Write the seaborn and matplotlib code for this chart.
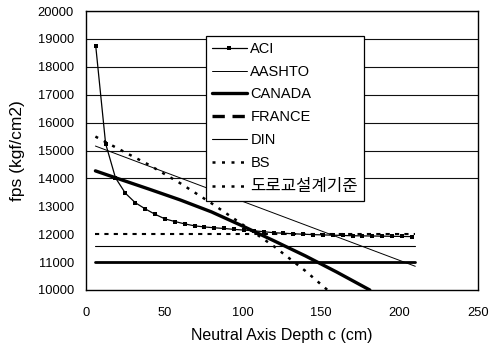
import matplotlib
matplotlib.use("Agg")
import matplotlib.pyplot as plt
import seaborn as sns
import pandas as pd
from matplotlib.lines import Line2D
from matplotlib import font_manager as fm

sns.set_theme(style="white")
names = {f.name for f in fm.fontManager.ttflist}
NARROW = "Liberation Sans Narrow" if "Liberation Sans Narrow" in names else "Liberation Sans"
plt.rcParams["font.family"] = ["Liberation Sans", "Noto Sans CJK KR", "DejaVu Sans"]

# ---------------- data ----------------
aci_c = [6.2, 12.5, 18.8, 25.1, 31.4, 37.7, 44.0, 50.3, 56.6, 62.9, 69.2, 75.5,
         81.8, 88.1, 94.4, 100.7, 107.0, 113.3, 119.6, 125.9, 132.2, 138.5,
         144.8, 151.1, 157.4, 163.7, 170.0, 176.3, 182.6, 188.9, 195.2, 201.5, 207.8]
aci_fps = [18750, 15250, 14020, 13470, 13130, 12910, 12715, 12550, 12455, 12370,
           12300, 12260, 12230, 12205, 12172, 12147, 12122, 12090, 12054, 12035,
           12015, 12000, 11985, 11975, 11965, 11955, 11945, 11940, 11935, 11930,
           11925, 11920, 11915]

aashto_c = [6, 210]
aashto_fps = [15160, 10850]

canada_c = [6, 20, 40, 60, 80, 100, 120, 140, 160, 181]
canada_fps = [14270, 14000, 13620, 13230, 12800, 12290, 11760, 11220, 10640, 10000]

france_c = [6, 210]
france_fps = [11000, 11000]

din_c = [6, 210]
din_fps = [11570, 11570]

bs_c = [6, 20, 40, 60, 80, 100, 120, 140, 154]
bs_fps = [15500, 15080, 14490, 13830, 13110, 12340, 11560, 10680, 10000]

road_c = [6, 210]
road_fps = [12020, 12020]

labels = ["ACI", "AASHTO", "CANADA", "FRANCE", "DIN", "BS", "도로교설계기준"]
x_ticks = [0, 50, 100, 150, 200, 250]
y_ticks = [10000, 11000, 12000, 13000, 14000, 15000, 16000, 17000, 18000, 19000, 20000]

# ---------------- figure ----------------
fig = plt.figure(figsize=(4.97, 3.5), dpi=100)
ax = fig.add_axes([86 / 497, 1 - 290 / 350, 392 / 497, 279 / 350])

K = "black"
sns.lineplot(x=aci_c, y=aci_fps, ax=ax, color=K, lw=0.9, marker="s", markersize=3.4,
             markeredgewidth=0, legend=False, sort=False)
sns.lineplot(x=aashto_c, y=aashto_fps, ax=ax, color=K, lw=0.7, legend=False)
sns.lineplot(x=canada_c, y=canada_fps, ax=ax, color=K, lw=2.4, legend=False)
sns.lineplot(x=france_c, y=france_fps, ax=ax, color=K, lw=2.0, legend=False)
sns.lineplot(x=din_c, y=din_fps, ax=ax, color=K, lw=0.8, legend=False)
sns.lineplot(x=bs_c, y=bs_fps, ax=ax, color=K, lw=1.8, linestyle=(0, (1.2, 2.6)), legend=False)
sns.lineplot(x=road_c, y=road_fps, ax=ax, color=K, lw=1.5, linestyle=(0, (2.0, 2.5)), legend=False)

ax.set_xlim(0, 250)
ax.set_ylim(10000, 20000)
ax.set_xticks(x_ticks)
ax.set_yticks(y_ticks)
ax.set_xticklabels([str(v) for v in x_ticks])
ax.set_yticklabels([str(v) for v in y_ticks])

for s in ax.spines.values():
    s.set_color(K)
    s.set_linewidth(1.0)

ax.tick_params(axis="both", direction="in", length=4, width=0.8, colors=K, labelsize=9.3)
ax.tick_params(axis="y", pad=8.6)
ax.tick_params(axis="x", pad=12.5)

ax.set_xlabel("Neutral Axis Depth c (cm)", fontsize=11.5, color=K, labelpad=6)
ax.set_ylabel("fps (kgf/cm2)", fontsize=12.5, color=K, labelpad=9)

handles = [
    Line2D([], [], color=K, lw=0.9, marker="s", markersize=3.4, markeredgewidth=0),
    Line2D([], [], color=K, lw=0.7),
    Line2D([], [], color=K, lw=2.4),
    Line2D([], [], color=K, lw=2.4, linestyle=(0, (3.7, 2.3))),
    Line2D([], [], color=K, lw=0.8),
    Line2D([], [], color=K, lw=1.8, linestyle=(0, (1.2, 2.6))),
    Line2D([], [], color=K, lw=1.8, linestyle=(0, (1.2, 2.6))),
]
leg = ax.legend(handles, labels, loc="upper left", bbox_to_anchor=(0.306, 0.910),
                borderaxespad=0, frameon=True, fancybox=False, framealpha=1,
                edgecolor=K, handlelength=2.4, handletextpad=0.25, labelspacing=0.6,
                borderpad=0.4,
                prop=fm.FontProperties(family=[NARROW, "Noto Sans CJK KR"], size=10.5))
leg.get_frame().set_linewidth(0.9)
for t in leg.get_texts():
    t.set_color(K)
leg.get_texts()[-1].set_fontproperties(
    fm.FontProperties(family=["Noto Sans CJK KR", NARROW], size=12))

# horizontal grid: only the upper rows show in the reference
ax.set_axisbelow(True)
ax.grid(axis="y", color="#111111", linewidth=0.8)
ax.grid(axis="x", visible=False)
for t in ax.yaxis.get_major_ticks():
    if t.get_loc() < 13500:
        t.gridline.set_visible(False)

fig.savefig("out.png", dpi=100)
